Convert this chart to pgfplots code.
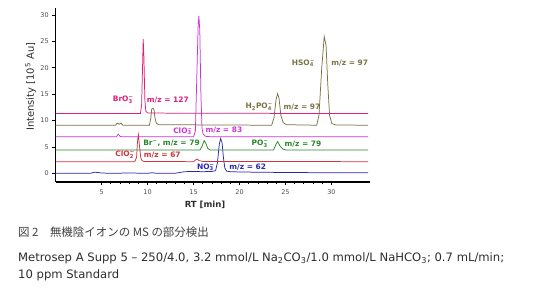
\documentclass[border=0pt]{standalone}
\usepackage{pgfplots}
\pgfplotsset{compat=1.18}
\usepackage{fontspec}
\setmainfont{DejaVu Sans}
\newfontfamily\cjk{Noto Sans CJK JP}
\definecolor{cBrO}{RGB}{222,30,122}
\definecolor{cClOiii}{RGB}{205,50,215}
\definecolor{cOl}{RGB}{122,114,66}
\definecolor{cGr}{RGB}{40,135,40}
\definecolor{cRd}{RGB}{210,50,60}
\definecolor{cBl}{RGB}{40,40,180}
\definecolor{ctext}{RGB}{45,45,45}
\newcommand{\ion}[2]{#1\rlap{\textsuperscript{−}}\textsubscript{#2}}
\begin{document}
\begin{tikzpicture}[lbl/.style={font=\fontsize{7.5}{8}\selectfont\bfseries, anchor=center, inner sep=0pt}]
\path[use as bounding box] (0bp,0bp) rectangle (554bp,291bp);
\begin{axis}[
  at={(55.7bp,109bp)}, anchor=south west,
  scale only axis, width=314.3bp, height=174bp,
  xmin=0, xmax=34.2, ymin=-1.65, ymax=31.3,
  axis lines*=left,
  axis line style={line width=1.1pt,-},
  tick align=outside,
  xtick={5,10,15,20,25,30}, minor x tick num=4,
  ytick={0,5,10,15,20,25,30},
  major tick length=3.5bp, minor tick length=2.5bp,
  tick style={line width=0.7pt, black},
  /pgf/number format/assume math mode=true,
  tick label style={font=\fontsize{6.5}{7}\selectfont, text=black!70},
  xticklabel style={yshift=-1bp},
  xlabel={\bfseries RT [min]},
  ylabel={Intensity [10\textsuperscript{5} Au]},
  xlabel style={font=\fontsize{8.5}{10}\selectfont, text=ctext, at={(axis description cs:0.475,-0.132)}, anchor=center},
  ylabel style={font=\fontsize{10}{11}\selectfont, text=ctext, at={(axis description cs:-0.08,0.547)}, anchor=center, rotate=0},
  clip=false,
  every axis plot/.append style={line width=0.75pt},
]
% blue NO3
\addplot[cBl] coordinates {(0,0) (3.8,0) (4.2,0.2) (4.6,0.15) (5,0.05) (6,0) (8,0.05) (10,0) (10.5,0.1) (11,0) (13,0) (13.5,0.15) (14,0.3) (15,0.35) (16,0.3) (17,0.35) (17.4,0.5) (17.6,2) (17.8,5.5) (17.95,6.6) (18.1,5.8) (18.25,3) (18.4,1.0) (18.6,0.4) (19,0.3) (20,0.25) (22,0.2) (25,0.15) (30,0.1) (34,0.1)};
% red ClO2
\addplot[cRd] coordinates {(0,2.2) (8.6,2.2) (8.8,3.0) (8.9,6) (9.0,7.3) (9.1,5.5) (9.25,3.0) (9.4,2.4) (9.6,2.25) (15,2.2) (15.2,2.5) (15.4,2.7) (15.6,2.4) (16,2.25) (34,2.2)};
% green Br, PO3
\addplot[cGr] coordinates {(0,4.4) (15.7,4.4) (15.9,5.0) (16.15,6.2) (16.35,5.6) (16.55,4.7) (16.8,4.4) (23.7,4.4) (23.95,5.4) (24.15,6.0) (24.4,5.2) (24.7,4.6) (25.1,4.4) (34,4.4)};
% magenta ClO3
\addplot[cClOiii] coordinates {(0,6.9) (6.6,6.9) (6.8,7.4) (7.0,7.0) (7.2,6.9) (15.0,6.9) (15.2,8) (15.35,18) (15.5,28) (15.58,29.8) (15.68,27) (15.8,15) (15.92,8.5) (16.05,7.4) (16.3,7.0) (17,6.9) (34,6.9)};
% olive H2PO4, HSO4
\addplot[cOl] coordinates {(0,9.1) (6.5,9.1) (6.7,9.5) (6.9,9.3) (7.1,9.5) (7.3,9.1) (10.2,9.1) (10.35,10.5) (10.45,12.2) (10.6,12.3) (10.7,12.0) (10.8,10.5) (10.95,9.5) (11.2,9.2) (23.5,9.1) (23.75,10.5) (23.98,14) (24.15,15.1) (24.3,14.2) (24.5,11) (24.75,9.6) (25.1,9.2) (28.4,9.1) (28.65,11) (28.95,20) (29.22,25.9) (29.42,24.2) (29.6,17) (29.8,11) (30.05,9.4) (30.5,9.15) (34,9.1)};
% crimson BrO3
\addplot[cBrO] coordinates {(0,11.3) (9.22,11.3) (9.35,13) (9.45,20) (9.52,25.4) (9.6,22) (9.7,14) (9.8,11.8) (10,11.4) (34,11.3)};
% labels
\node[lbl, text=cBrO] at (axis cs:7.3,13.9) {\ion{BrO}{3}};
\node[lbl, text=cBrO] at (axis cs:12.2,13.9) {m/z = 127};
\node[lbl, text=cOl] at (axis cs:22.1,12.6) {H\textsubscript{2}\ion{PO}{4}};
\node[lbl, text=cOl] at (axis cs:26.8,12.6) {m/z = 97};
\node[lbl, text=cOl] at (axis cs:26.9,20.8) {\ion{HSO}{4}};
\node[lbl, text=cOl] at (axis cs:32.0,20.8) {m/z = 97};
\node[lbl, text=cClOiii] at (axis cs:13.8,8.0) {\ion{ClO}{3}};
\node[lbl, text=cClOiii] at (axis cs:18.3,8.2) {m/z = 83};
\node[lbl, text=cGr] at (axis cs:12.6,5.7) {Br\textsuperscript{−}, m/z = 79};
\node[lbl, text=cGr] at (axis cs:22.2,5.55) {\ion{PO}{3}};
\node[lbl, text=cGr] at (axis cs:26.9,5.55) {m/z = 79};
\node[lbl, text=cRd] at (axis cs:7.5,3.5) {\ion{ClO}{2}};
\node[lbl, text=cRd] at (axis cs:11.6,3.5) {m/z = 67};
\node[lbl, text=cBl] at (axis cs:16.3,1.1) {\ion{NO}{3}};
\node[lbl, text=cBl] at (axis cs:20.9,1.1) {m/z = 62};
\end{axis}
\node[anchor=west, inner sep=0pt, text=black!75, font=\cjk\fontsize{11.5}{13}\selectfont] at (18bp,59bp) {図 2　無機陰イオンの MS の部分検出};
\node[anchor=west, inner sep=0pt, text=ctext, font=\fontsize{11.65}{13}\selectfont] at (18bp,33bp) {Metrosep A Supp 5 – 250/4.0, 3.2 mmol/L Na\textsubscript{2}CO\textsubscript{3}/1.0 mmol/L NaHCO\textsubscript{3}; 0.7 mL/min;};
\node[anchor=west, inner sep=0pt, text=ctext, font=\fontsize{11.65}{13}\selectfont] at (18bp,16bp) {10 ppm Standard};
\end{tikzpicture}
\end{document}
